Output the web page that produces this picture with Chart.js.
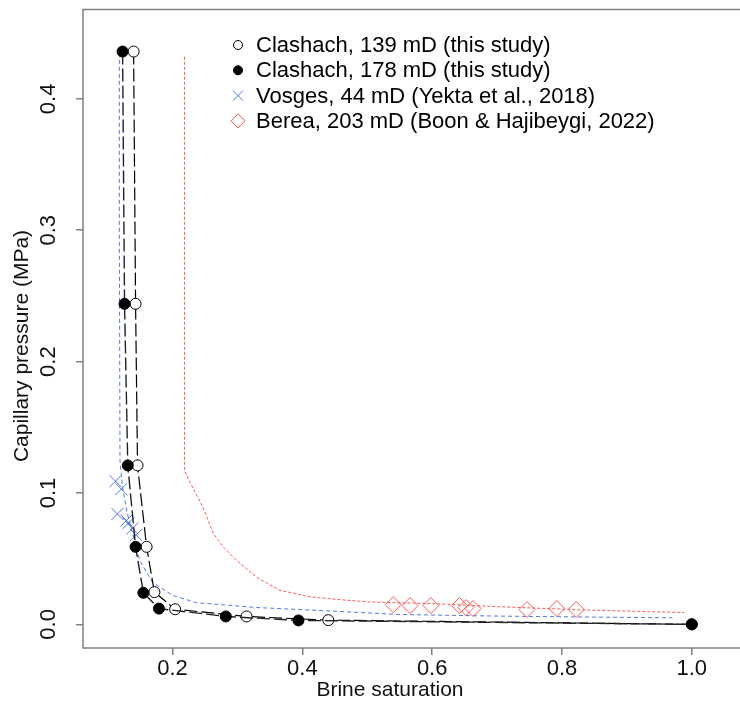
<!DOCTYPE html>
<html>
<head>
<meta charset="utf-8">
<script src="https://cdn.jsdelivr.net/npm/chart.js@4.4.0/dist/chart.umd.min.js"></script>
<style>
  html, body { margin: 0; padding: 0; background: #fff; overflow: hidden; }
  #wrap { width: 740px; height: 708px; overflow: hidden; }
</style>
</head>
<body>
<div id="wrap"><canvas id="myChart" width="748" height="708"></canvas></div>
<script>
// Clashach 139 mD (open circles)
const clash139Sw = [0.140, 0.143, 0.146, 0.160, 0.172, 0.204, 0.314, 0.440, 1.0]
const clash139Pc = [0.436, 0.244, 0.121, 0.059, 0.0245, 0.0115, 0.006, 0.0032, 0.0]

// Clashach 178 mD (filled circles)
const clash178Sw = [0.123, 0.126, 0.131, 0.143, 0.155, 0.179, 0.282, 0.394, 1.0]
const clash178Pc = [0.436, 0.244, 0.121, 0.059, 0.024, 0.012, 0.006, 0.003, 0.0]

// Vosges 44 mD (crosses) + its curve
const vosgesSw = [0.112, 0.121, 0.115, 0.129, 0.132, 0.138, 0.144]
const vosgesPc = [0.109, 0.103, 0.084, 0.079, 0.077, 0.073, 0.068]
const vosgesCurveSw = [0.118, 0.118, 0.119, 0.123, 0.130, 0.138, 0.149, 0.169, 0.200, 0.237, 0.330, 0.458, 0.550, 0.700, 0.850, 0.970]
const vosgesCurvePc = [0.435, 0.300, 0.125, 0.104, 0.085, 0.070, 0.049, 0.032, 0.022, 0.0165, 0.0128, 0.0098, 0.0075, 0.0063, 0.0055, 0.005]

// Berea 203 mD (diamonds) + its curve
const bereaSw = [0.540, 0.566, 0.598, 0.642, 0.652, 0.663, 0.746, 0.792, 0.822]
const bereaPc = [0.015, 0.0143, 0.0143, 0.0143, 0.0128, 0.012, 0.0113, 0.012, 0.0113]
const bereaCurveSw = [0.2185, 0.2185, 0.2185, 0.226, 0.247, 0.263, 0.278, 0.298, 0.329, 0.365, 0.411, 0.453, 0.504, 0.600, 0.700, 0.830, 0.988]
const bereaCurvePc = [0.432, 0.200, 0.117, 0.109, 0.089, 0.069, 0.059, 0.049, 0.036, 0.026, 0.021, 0.019, 0.017, 0.0158, 0.0135, 0.011, 0.009]

const xTicks = [0.2, 0.4, 0.6, 0.8, 1.0]
const yTicks = [0.0, 0.1, 0.2, 0.3, 0.4]

const xTitle = 'Brine saturation'
const yTitle = 'Capillary pressure (MPa)'

const legendLabels = [
  "Clashach, 139 mD (this study)",
  "Clashach, 178 mD (this study)",
  "Vosges, 44 mD (Yekta et al., 2018)",
  "Berea, 203 mD (Boon & Hajibeygi, 2022)"
]

const BLUE = 'rgba(65,105,225,0.9)'
const RED = 'rgba(255,60,60,0.85)'
const FONT = '"Liberation Sans", Arial, sans-serif'

function pts(xs, ys) {
  return xs.map((x, i) => ({ x: x, y: ys[i] }))
}

function drawMarker(ctx, kind, x, y, r) {
  ctx.save()
  ctx.lineWidth = 1
  ctx.beginPath()
  if (kind === 'open' || kind === 'filled') {
    ctx.arc(x, y, r, 0, Math.PI * 2)
    ctx.fillStyle = kind === 'filled' ? '#000' : '#fff'
    ctx.fill()
    ctx.strokeStyle = '#000'
    ctx.stroke()
  } else if (kind === 'cross') {
    ctx.moveTo(x - r, y - r); ctx.lineTo(x + r, y + r)
    ctx.moveTo(x - r, y + r); ctx.lineTo(x + r, y - r)
    ctx.strokeStyle = BLUE
    ctx.stroke()
  } else {
    ctx.moveTo(x, y - r); ctx.lineTo(x + r, y); ctx.lineTo(x, y + r); ctx.lineTo(x - r, y); ctx.closePath()
    ctx.strokeStyle = RED
    ctx.stroke()
  }
  ctx.restore()
}

// frame, axis titles and legend, R style
const framePlugin = {
  id: 'frame',
  afterDraw(chart) {
    const { ctx, chartArea } = chart
    ctx.save()
    ctx.strokeStyle = '#808080'
    ctx.lineWidth = 1.5
    ctx.beginPath()
    ctx.moveTo(chartArea.right + 2, chartArea.top)
    ctx.lineTo(chartArea.left, chartArea.top)
    ctx.lineTo(chartArea.left, chartArea.bottom)
    ctx.lineTo(chartArea.right + 2, chartArea.bottom)
    ctx.stroke()

    // axis titles
    ctx.fillStyle = '#111'
    ctx.font = '21px ' + FONT
    ctx.textAlign = 'center'
    ctx.textBaseline = 'middle'
    ctx.fillText(xTitle, 390, 690)
    ctx.save()
    ctx.translate(22, 346)
    ctx.rotate(-Math.PI / 2)
    ctx.fillText(yTitle, 0, 0)
    ctx.restore()

    // legend
    const kinds = ['open', 'filled', 'cross', 'diamond']
    const sizes = [4.5, 4.5, 5, 7]
    ctx.font = '22px ' + FONT
    ctx.fillStyle = '#000'
    ctx.textAlign = 'left'
    legendLabels.forEach((lab, i) => {
      const y = 45 + i * 25.3
      drawMarker(ctx, kinds[i], 238, y, sizes[i])
      ctx.fillText(lab, 256, y + 1)
    })
    ctx.restore()
  }
}

const ctx = document.getElementById('myChart').getContext('2d')

// note: lower dataset index is drawn on top
new Chart(ctx, {
  type: 'scatter',
  data: {
    datasets: [
      {
        label: legendLabels[1],
        data: pts(clash178Sw, clash178Pc),
        showLine: true,
        borderColor: '#222',
        borderWidth: 1.4,
        borderDash: [13, 4],
        pointStyle: 'circle',
        pointRadius: 5.5,
        pointBorderWidth: 1,
        pointBorderColor: '#000',
        pointBackgroundColor: '#000'
      },
      {
        label: legendLabels[0],
        data: pts(clash139Sw, clash139Pc),
        showLine: true,
        borderColor: '#000',
        borderWidth: 1.2,
        borderDash: [13, 4],
        pointStyle: 'circle',
        pointRadius: 5.5,
        pointBorderWidth: 1,
        pointBorderColor: '#000',
        pointBackgroundColor: '#fff'
      },
      {
        label: legendLabels[2],
        data: pts(vosgesSw, vosgesPc),
        showLine: false,
        pointStyle: 'crossRot',
        pointRadius: 8.5,
        pointBorderWidth: 1,
        pointBorderColor: BLUE
      },
      {
        label: legendLabels[3],
        data: pts(bereaSw, bereaPc),
        showLine: false,
        pointStyle: 'rectRot',
        pointRadius: 8,
        pointBorderWidth: 1,
        pointBorderColor: RED,
        pointBackgroundColor: 'rgba(0,0,0,0)'
      },
      {
        label: 'Vosges curve',
        data: pts(vosgesCurveSw, vosgesCurvePc),
        showLine: true,
        borderColor: BLUE,
        borderWidth: 1,
        borderDash: [4, 3],
        pointRadius: 0
      },
      {
        label: 'Berea curve',
        data: pts(bereaCurveSw, bereaCurvePc),
        showLine: true,
        borderColor: RED,
        borderWidth: 1,
        borderDash: [3, 2],
        pointRadius: 0
      }
    ]
  },
  options: {
    responsive: false,
    animation: false,
    layout: { padding: { top: 5, right: 0, left: 0, bottom: 0 } },
    plugins: {
      legend: { display: false },
      tooltip: { enabled: false }
    },
    scales: {
      x: {
        type: 'linear',
        min: 0.062,
        max: 1.072,
        afterFit: (scale) => {
          scale.height = 60
          scale.paddingLeft = 0
          scale.paddingRight = 0
        },
        afterBuildTicks: (scale) => { scale.ticks = xTicks.map(v => ({ value: v })) },
        grid: { drawOnChartArea: false, drawTicks: true, tickLength: 7, color: '#808080', lineWidth: 1.5 },
        border: { display: false },
        ticks: {
          color: '#111',
          padding: 1,
          maxRotation: 0,
          font: { family: FONT, size: 22 },
          callback: (v) => Number(v).toFixed(1)
        },
        title: { display: false }
      },
      y: {
        type: 'linear',
        min: -0.018,
        max: 0.468,
        afterFit: (scale) => {
          scale.width = 83
          scale.paddingTop = 0
          scale.paddingBottom = 0
        },
        afterBuildTicks: (scale) => { scale.ticks = yTicks.map(v => ({ value: v })) },
        grid: { drawOnChartArea: false, drawTicks: true, tickLength: 7, color: '#808080', lineWidth: 1.5 },
        border: { display: false },
        ticks: {
          color: '#111',
          padding: 12,
          minRotation: 90,
          maxRotation: 90,
          crossAlign: 'center',
          font: { family: FONT, size: 22 },
          callback: (v) => Number(v).toFixed(1)
        },
        title: { display: false }
      }
    }
  },
  plugins: [framePlugin]
})
</script>
</body>
</html>
